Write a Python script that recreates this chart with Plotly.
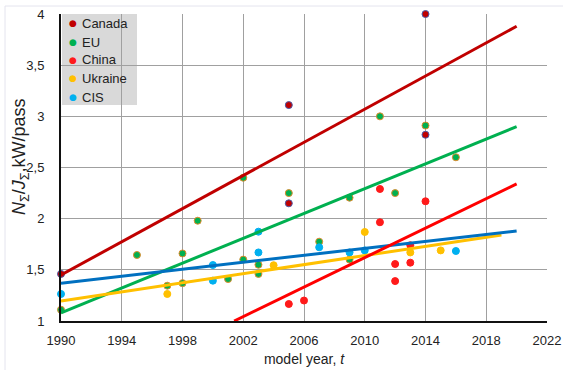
import plotly.graph_objects as go

# Observed specific power by model year, per region
canada_year = [1990, 2005, 2005, 2014, 2014]
canada_val = [1.46, 3.11, 2.15, 4.00, 2.82]

eu_year = [1990, 1995, 1997, 1998, 1998, 1999, 2001, 2002, 2002, 2003, 2003,
           2005, 2007, 2009, 2009, 2011, 2012, 2014, 2016]
eu_val = [1.11, 1.645, 1.345, 1.66, 1.37, 1.98, 1.41, 2.40, 1.60, 1.55, 1.46,
          2.25, 1.775, 2.205, 1.60, 3.00, 2.25, 2.91, 2.60]

china_year = [2005, 2006, 2011, 2011, 2012, 2012, 2013, 2013, 2014]
china_val = [1.166, 1.20, 2.29, 1.965, 1.557, 1.39, 1.57, 1.74, 2.17]

ukraine_year = [1997, 2004, 2010, 2013, 2015]
ukraine_val = [1.264, 1.545, 1.87, 1.67, 1.69]

cis_year = [1990, 2000, 2000, 2003, 2003, 2007, 2009, 2010, 2016]
cis_val = [1.264, 1.394, 1.547, 1.873, 1.67, 1.72, 1.67, 1.69, 1.684]

# Linear trend lines (start/end points)
canada_trend_x = [1990, 2020]
canada_trend_y = [1.45, 3.88]
eu_trend_x = [1990, 2020]
eu_trend_y = [1.08, 2.90]
china_trend_x = [2001.4, 2020]
china_trend_y = [1.00, 2.34]
ukraine_trend_x = [1990, 2019]
ukraine_trend_y = [1.195, 1.84]
cis_trend_x = [1990, 2020]
cis_trend_y = [1.37, 1.88]

FONT = "Liberation Sans, Arial, sans-serif"
TEXT = "#222222"

# plot area in pixels
W, H = 563, 370
L, R, T, B = 61, 16, 14, 49
PW, PH = W - L - R, H - T - B


def px_x(p):
    return (p - L) / PW


def px_y(p):
    return (H - B - p) / PH


fig = go.Figure()

series = [
    ("Canada", canada_year, canada_val, "#c00000", "#4a5aa8"),
    ("EU", eu_year, eu_val, "#00b050", "#e08a2c"),
    ("China", china_year, china_val, "#ff1a1a", "#ff1a1a"),
    ("Ukraine", ukraine_year, ukraine_val, "#ffc000", "#ffc000"),
    ("CIS", cis_year, cis_val, "#00b0f0", "#00b0f0"),
]
for name, xs, ys, fill, edge in series:
    fig.add_trace(go.Scatter(
        x=xs, y=ys, mode="markers", name=name, showlegend=False,
        cliponaxis=False,
        marker=dict(size=7, color=fill, line=dict(color=edge, width=1)),
    ))

trends = [
    (canada_trend_x, canada_trend_y, "#c00000"),
    (eu_trend_x, eu_trend_y, "#00b050"),
    (ukraine_trend_x, ukraine_trend_y, "#ffc000"),
    (cis_trend_x, cis_trend_y, "#0070c0"),
    (china_trend_x, china_trend_y, "#ff0000"),
]
for xs, ys, color in trends:
    fig.add_trace(go.Scatter(
        x=xs, y=ys, mode="lines", showlegend=False, hoverinfo="skip",
        line=dict(color=color, width=3),
    ))

# light outer frame
fig.add_shape(type="rect", xref="paper", yref="paper",
              x0=px_x(5), x1=px_x(620), y0=px_y(420), y1=px_y(6),
              line=dict(color="#e4e4ee", width=1), layer="below")

# compact legend box in the upper-left corner
fig.add_shape(type="rect", xref="paper", yref="paper",
              x0=px_x(62), x1=px_x(137), y0=px_y(105), y1=px_y(14),
              line=dict(width=0), fillcolor="#d9d9d9", layer="below")
row_y = [23, 42, 60, 78, 97]
for (name, _, _, fill, edge), ry in zip(series, row_y):
    fig.add_annotation(
        xref="paper", yref="paper", x=px_x(73), y=px_y(ry),
        text="●", showarrow=False, xanchor="center", yanchor="middle",
        font=dict(family="DejaVu Sans", size=9, color=fill),
    )
    fig.add_annotation(
        xref="paper", yref="paper", x=px_x(80), y=px_y(ry),
        text=name, showarrow=False, xanchor="left", yanchor="middle",
        font=dict(family=FONT, size=13, color=TEXT),
    )

# y axis title
fig.add_annotation(
    xref="paper", yref="paper", x=px_x(20), y=px_y(157),
    text="<i>N</i><sub>Σ</sub>/<i>J</i><sub>Σ</sub>,kW/pass",
    textangle=-90, showarrow=False, xanchor="center", yanchor="middle",
    font=dict(family=FONT, size=18, color=TEXT),
)

fig.update_layout(
    width=W, height=H,
    margin=dict(l=L, r=R, t=T, b=B, autoexpand=False),
    paper_bgcolor="white", plot_bgcolor="white",
    separators=", ",
    showlegend=False,
    font=dict(family=FONT, size=13, color=TEXT),
    xaxis=dict(
        range=[1990, 2022], dtick=4, tick0=1990, automargin=False,
        showgrid=True, gridcolor="#a0a0a0", gridwidth=1,
        showline=True, linecolor="#111111", linewidth=2,
        ticks="", zeroline=False, ticklabelstandoff=6,
        tickfont=dict(size=13),
        title=dict(text="model year, <i>t</i>", font=dict(size=14), standoff=8),
    ),
    yaxis=dict(
        range=[1, 4], dtick=0.5, tick0=1, automargin=False,
        showgrid=True, gridcolor="#a0a0a0", gridwidth=1,
        showline=True, linecolor="#111111", linewidth=2,
        ticks="", zeroline=False, ticklabelstandoff=12,
        tickfont=dict(size=13),
    ),
)

fig.write_html("out.html")
